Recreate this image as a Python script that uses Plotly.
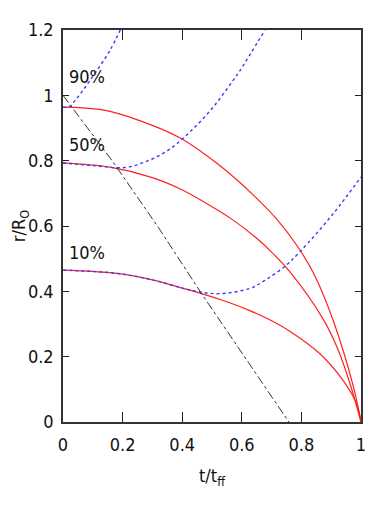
import plotly.graph_objects as go

# shell trajectories r/R0 vs t/tff
t_90 = [0.0, 0.129, 0.25, 0.392, 0.526, 0.644, 0.72, 0.789, 0.845, 0.907, 0.974, 1.0]
r_90 = [0.964, 0.956, 0.925, 0.870, 0.785, 0.690, 0.618, 0.535, 0.448, 0.310, 0.110, 0.0]

t_50 = [0.0, 0.157, 0.30, 0.392, 0.482, 0.571, 0.644, 0.70, 0.761, 0.873, 0.92, 0.963, 1.0]
r_50 = [0.793, 0.780, 0.748, 0.714, 0.669, 0.618, 0.567, 0.520, 0.460, 0.315, 0.228, 0.118, 0.0]

t_10 = [0.0, 0.18, 0.30, 0.40, 0.465, 0.55, 0.627, 0.70, 0.761, 0.862, 0.941, 0.986, 1.0]
r_10 = [0.465, 0.455, 0.435, 0.410, 0.393, 0.368, 0.341, 0.310, 0.278, 0.209, 0.126, 0.054, 0.0]

# blue dotted curves
tb_90 = [0.0, 0.02, 0.05, 0.09, 0.157, 0.192]
rb_90 = [0.964, 0.965, 0.995, 1.045, 1.137, 1.200]

tb_50 = [0.0, 0.10, 0.208, 0.28, 0.353, 0.426, 0.504, 0.571, 0.594, 0.678]
rb_50 = [0.793, 0.785, 0.779, 0.798, 0.832, 0.888, 0.964, 1.046, 1.076, 1.200]

tb_10 = [0.0, 0.18, 0.30, 0.40, 0.459, 0.526, 0.627, 0.678, 0.745, 0.795, 0.907, 1.0]
rb_10 = [0.465, 0.455, 0.435, 0.410, 0.398, 0.393, 0.409, 0.434, 0.477, 0.521, 0.638, 0.750]

# black dash-dot line
t_k = [0.0, 0.168, 0.319, 0.465, 0.758]
r_k = [1.0, 0.796, 0.597, 0.393, 0.0]

labels = ["90%", "50%", "10%"]
label_r = [1.058, 0.85, 0.52]

RED = "#ff2020"
BLUE = "#3a3aff"
FONT = "Liberation Sans Narrow, DejaVu Sans Condensed, Liberation Sans, Arial"

fig = go.Figure()
for tt, rr in [(t_90, r_90), (t_50, r_50), (t_10, r_10)]:
    fig.add_trace(go.Scatter(x=tt, y=rr, mode="lines",
                             line=dict(color=RED, width=1.2, shape="spline", smoothing=1.0)))
for tt, rr in [(tb_90, rb_90), (tb_50, rb_50), (tb_10, rb_10)]:
    fig.add_trace(go.Scatter(x=tt, y=rr, mode="lines",
                             line=dict(color=BLUE, width=1.4, dash="dot", shape="spline", smoothing=1.0)))
fig.add_trace(go.Scatter(x=t_k, y=r_k, mode="lines", line=dict(color="#333333", width=1, dash="dashdot")))

for lab, ry in zip(labels, label_r):
    fig.add_annotation(x=0.012, y=ry, text=lab, showarrow=False, xanchor="left",
                       font=dict(size=18, color="#111111", family=FONT))

axis_common = dict(
    showline=True, linecolor="#333333", linewidth=1.5, mirror="allticks",
    ticks="inside", tickcolor="#222222", tickwidth=1.3, showgrid=False, zeroline=False,
    tickfont=dict(size=18, color="#111111", family=FONT), automargin=False,
)
fig.update_xaxes(range=[0, 1], tickvals=[0, 0.2, 0.4, 0.6, 0.8, 1],
                 ticktext=["0", "0.2", "0.4", "0.6", "0.8", "1"],
                 ticklen=10, ticklabelstandoff=6,
                 title=dict(text="t/t<sub>ff</sub>", font=dict(size=18, family=FONT, color="#111111")),
                 **axis_common)
fig.update_yaxes(range=[0, 1.2], tickvals=[0, 0.2, 0.4, 0.6, 0.8, 1, 1.2],
                 ticktext=["0", "0.2", "0.4", "0.6", "0.8", "1", "1.2"],
                 ticklen=6, ticklabelstandoff=4,
                 title=dict(text="r/R<sub>O</sub>", font=dict(size=18, family=FONT, color="#111111")),
                 **axis_common)
# page body adds an 8px offset, so the figure is sized/margined to compensate
fig.update_layout(
    width=374, height=510, showlegend=False,
    margin=dict(l=55, r=21, t=22, b=96),
    plot_bgcolor="white", paper_bgcolor="white",
)
fig.write_html("out.html")
